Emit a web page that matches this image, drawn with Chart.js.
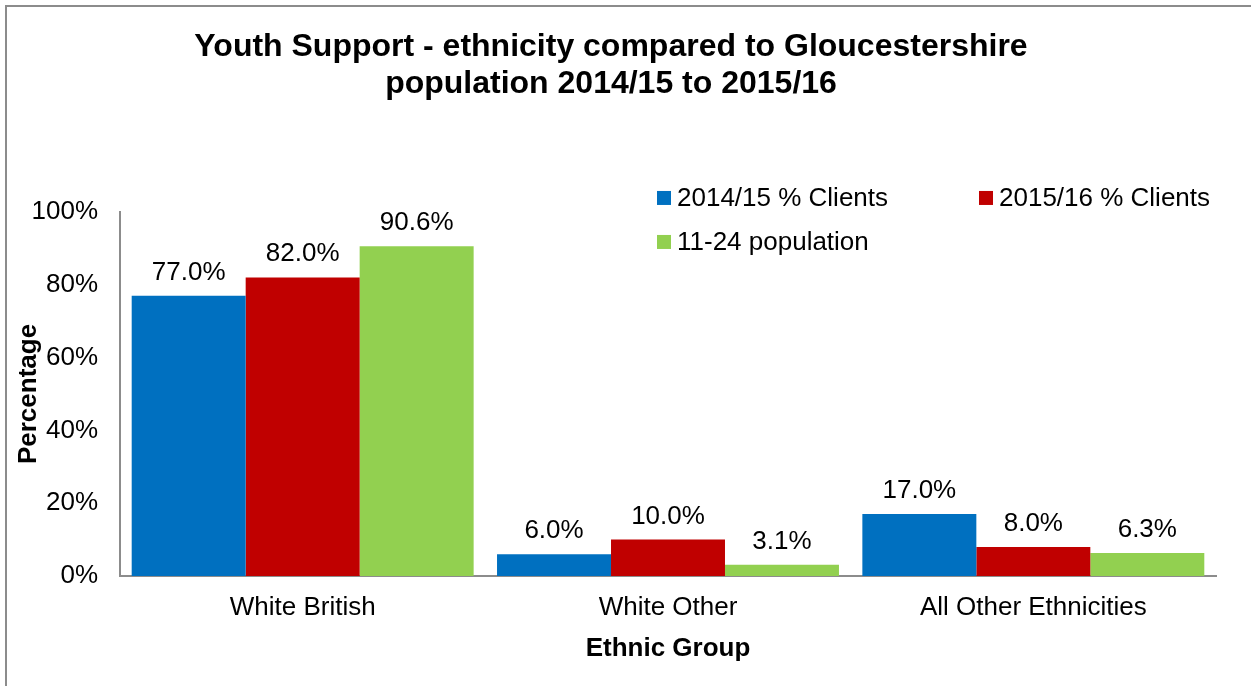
<!DOCTYPE html>
<html>
<head>
<meta charset="utf-8">
<script src="https://cdn.jsdelivr.net/npm/chart.js@4/dist/chart.umd.min.js"></script>
<style>
  html, body { margin: 0; padding: 0; background: #fff; overflow: hidden; width: 1251px; height: 686px; }
  #frame { position: absolute; left: 5px; top: 5px; width: 1400px; height: 900px; border: 2px solid #8c8c8c; box-sizing: border-box; }
  #c { position: absolute; left: 0; top: 0; }
</style>
</head>
<body>
<div id="frame"></div>
<canvas id="c" width="1251" height="686"></canvas>
<script>
const categories = ['White British', 'White Other', 'All Other Ethnicities'];
const seriesNames = ['2014/15 % Clients', '2015/16 % Clients', '11-24 population'];
const clients1415 = [77.0, 6.0, 17.0];
const clients1516 = [82.0, 10.0, 8.0];
const population1124 = [90.6, 3.1, 6.3];
const yTicks = [0, 20, 40, 60, 80, 100];
const titleLines = ['Youth Support - ethnicity compared to Gloucestershire', 'population 2014/15 to 2015/16'];
const colors = ['#0070C0', '#C00000', '#92D050'];

const FONT = "'Liberation Sans', Arial, sans-serif";

const dataLabels = {
  id: 'dataLabels',
  afterDatasetsDraw(chart) {
    const ctx = chart.ctx;
    ctx.save();
    ctx.font = '26px ' + FONT;
    ctx.fillStyle = '#000';
    ctx.textAlign = 'center';
    ctx.textBaseline = 'alphabetic';
    chart.data.datasets.forEach((ds, i) => {
      const meta = chart.getDatasetMeta(i);
      meta.data.forEach((bar, j) => {
        ctx.fillText(ds.data[j].toFixed(1) + '%', bar.x, bar.y - 16);
      });
    });
    ctx.restore();
  }
};

const customLegend = {
  id: 'customLegend',
  afterDraw(chart) {
    const ctx = chart.ctx;
    const top = chart.chartArea.top;
    const items = [
      { x: 657, y: top - 14 },
      { x: 979, y: top - 14 },
      { x: 657, y: top + 30 }
    ];
    ctx.save();
    ctx.font = '26px ' + FONT;
    ctx.textBaseline = 'middle';
    ctx.textAlign = 'left';
    chart.data.datasets.forEach((ds, i) => {
      const it = items[i];
      ctx.fillStyle = ds.backgroundColor;
      ctx.fillRect(it.x, it.y - 7, 14, 14);
      ctx.fillStyle = '#000';
      ctx.fillText(ds.label, it.x + 20, it.y + 1);
    });
    ctx.restore();
  }
};

new Chart(document.getElementById('c'), {
  type: 'bar',
  data: {
    labels: categories,
    datasets: [
      { label: seriesNames[0], data: clients1415, backgroundColor: colors[0] },
      { label: seriesNames[1], data: clients1516, backgroundColor: colors[1] },
      { label: seriesNames[2], data: population1124, backgroundColor: colors[2] }
    ]
  },
  options: {
    responsive: false,
    animation: false,
    devicePixelRatio: 1,
    layout: { padding: { left: 6, right: 35, top: 12, bottom: 10 } },
    datasets: { bar: { categoryPercentage: 0.936, barPercentage: 1.0, borderWidth: 0 } },
    plugins: {
      legend: { display: false },
      tooltip: { enabled: false },
      title: {
        display: true,
        text: titleLines,
        color: '#000',
        font: { family: FONT, size: 32, weight: 'bold', lineHeight: 1.14 },
        padding: { top: 17, bottom: 110 }
      }
    },
    scales: {
      x: {
        grid: { display: false, drawTicks: false },
        border: { display: true, color: '#8c8c8c', width: 2 },
        ticks: { color: '#000', font: { family: FONT, size: 26 }, padding: 16 },
        title: { display: true, text: 'Ethnic Group', color: '#000', font: { family: FONT, size: 26, weight: 'bold' }, padding: { top: 0, bottom: 12 } },
        afterFit(scale) { scale.height = 100; }
      },
      y: {
        min: 0, max: 100,
        afterBuildTicks(scale) { scale.ticks = yTicks.map(v => ({ value: v })); },
        grid: { display: false, drawTicks: false },
        border: { display: true, color: '#8c8c8c', width: 2 },
        ticks: { color: '#000', font: { family: FONT, size: 26 }, padding: 22, callback: v => v + '%' },
        title: { display: true, text: 'Percentage', color: '#000', font: { family: FONT, size: 26, weight: 'bold' }, padding: { top: 7, bottom: 0 } },
        afterFit(scale) { scale.width = 114; }
      }
    }
  },
  plugins: [dataLabels, customLegend]
});
</script>
</body>
</html>
